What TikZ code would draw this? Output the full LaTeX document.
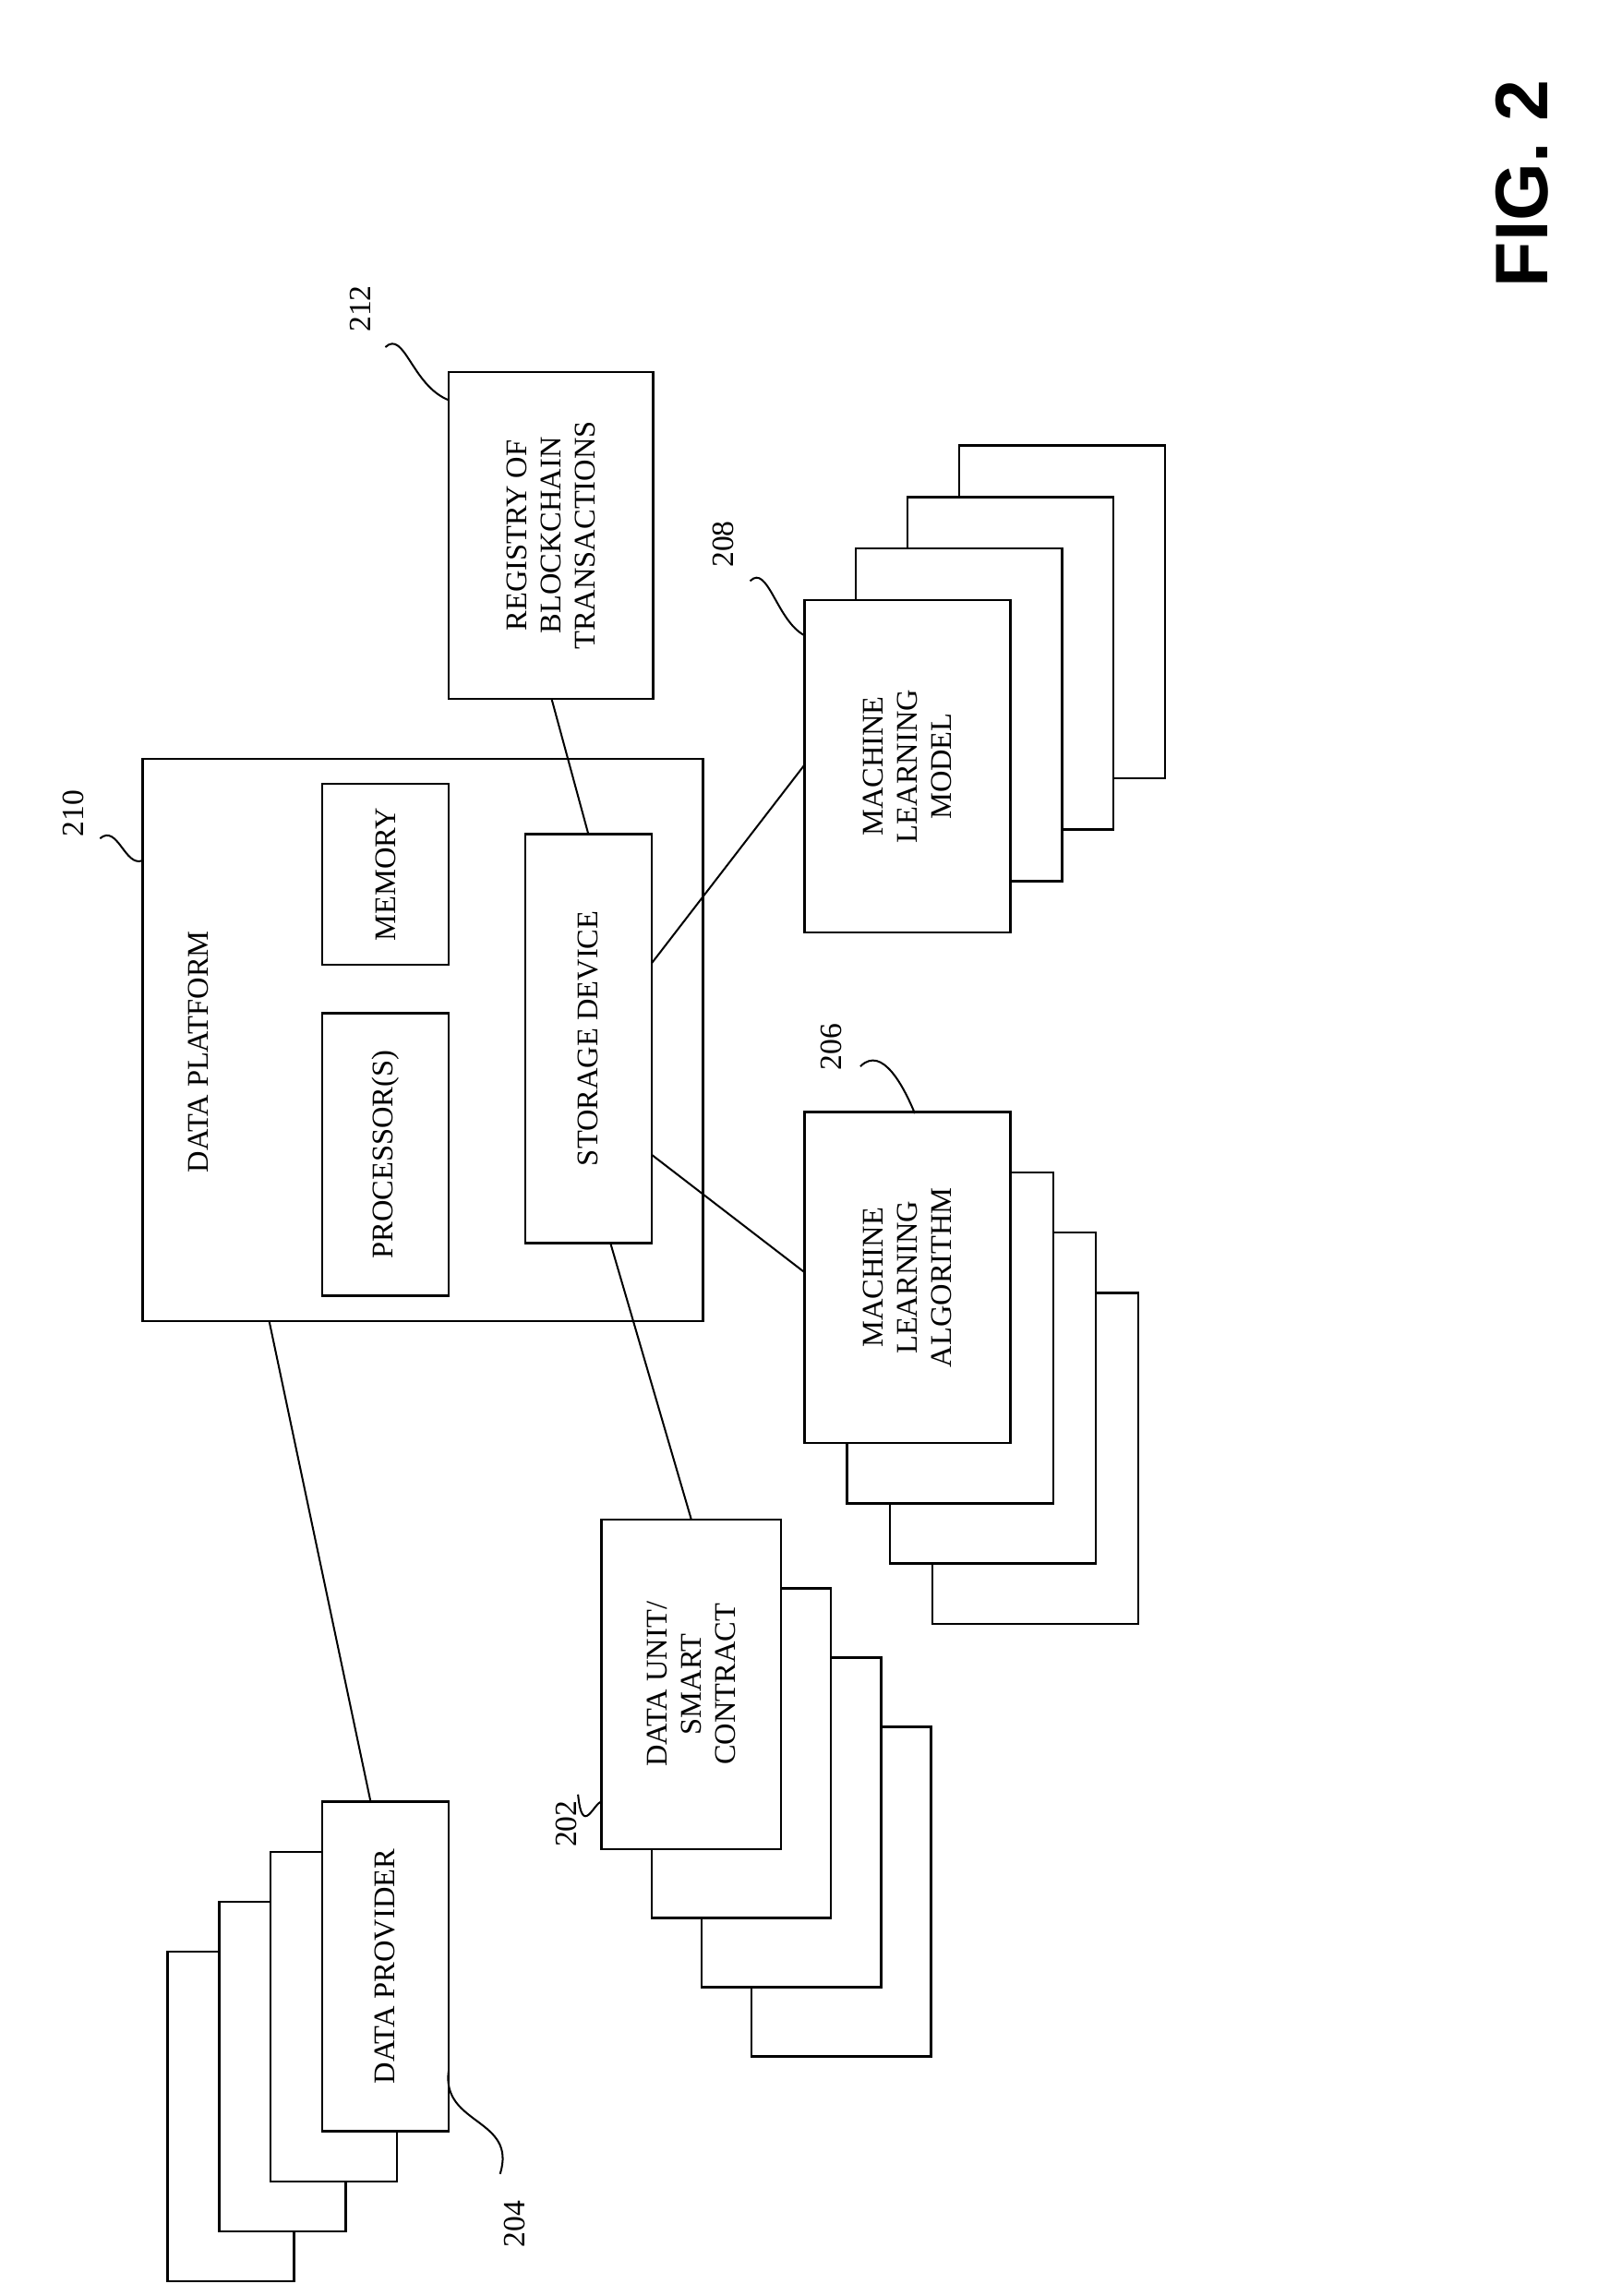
\documentclass[tikz,border=0pt]{standalone}
\usepackage{fontspec}
\setmainfont{Liberation Serif}
\newfontfamily\figfont{Liberation Sans}
\usetikzlibrary{positioning}

\tikzset{
  box/.style={draw, line width=1.1pt, fill=white, rotate=90, align=center,
    font=\fontsize{14.5}{16.5}\selectfont, inner sep=2pt},
  lbl/.style={rotate=90, font=\fontsize{15}{17}\selectfont},
  lead/.style={line width=0.9pt},
  link/.style={line width=0.9pt}
}

\begin{document}
\begin{tikzpicture}[x=0.025cm, y=-0.025cm]
  \useasboundingbox (0,0) rectangle (1086,1561);

  % data platform
  \node[box, minimum width=9.55cm, minimum height=9.525cm] (dp) at (287.5,707) {};
  \node[lbl, font=\fontsize{14.5}{16.5}\selectfont] (dpt) at (135,715) {DATA PLATFORM};
  \node[box, minimum width=4.8cm, minimum height=2.15cm] (proc) at (262,785) {PROCESSOR(S)};
  \node[box, minimum width=3.075cm, minimum height=2.15cm] (mem) at (262,594.5) {MEMORY};
  \node[box, minimum width=6.95cm, minimum height=2.15cm] (stor) at (400,706) {STORAGE DEVICE};

  % registry
  \node[box, minimum width=5.55cm, minimum height=3.475cm] (reg) at (374.5,364)
    {REGISTRY OF\\BLOCKCHAIN\\TRANSACTIONS};

  % stacks
  \foreach \k in {3,2,1}
    \node[box, minimum width=5.65cm, minimum height=3.5cm] (mlm\k) at (617+35*\k,521-35*\k) {};
  \node[box, minimum width=5.65cm, minimum height=3.5cm] (mlm) at (617,521) {MACHINE\\LEARNING\\MODEL};

  \foreach \k in {3,2,1}
    \node[box, minimum width=5.625cm, minimum height=3.5cm] (mla\k) at (617+29*\k,868.5+41*\k) {};
  \node[box, minimum width=5.625cm, minimum height=3.5cm] (mla) at (617,868.5) {MACHINE\\LEARNING\\ALGORITHM};

  \foreach \k in {3,2,1}
    \node[box, minimum width=5.6cm, minimum height=3.05cm] (du\k) at (470+34*\k,1145+47*\k) {};
  \node[box, minimum width=5.6cm, minimum height=3.05cm] (du) at (470,1145) {DATA UNIT/\\SMART\\CONTRACT};

  \foreach \k in {3,2,1}
    \node[box, minimum width=5.6cm, minimum height=2.15cm] (dpv\k) at (262-35*\k,1337+34*\k) {};
  \node[box, minimum width=5.6cm, minimum height=2.15cm] (dpv) at (262,1337) {DATA PROVIDER};

  % connectors
  \coordinate (a1) at (183,898);   \coordinate (a2) at (252,1225);
  \coordinate (b1) at (415,845);   \coordinate (b2) at (470,1033);
  \coordinate (c1) at (443,785);   \coordinate (c2) at (547,865);
  \coordinate (d1) at (443,655);   \coordinate (d2) at (547,520);
  \coordinate (e1) at (375,475);   \coordinate (e2) at (400,567);
  \draw[link] (a1) -- (a2);
  \draw[link] (b1) -- (b2);
  \draw[link] (c1) -- (c2);
  \draw[link] (d1) -- (d2);
  \draw[link] (e1) -- (e2);

  % reference numerals
  \node[lbl] (n210) at (50,553) {210};
  \node[lbl] (n212) at (245,210) {212};
  \node[lbl] (n208) at (492,370) {208};
  \node[lbl] (n206) at (565,712) {206};
  \node[lbl] (n202) at (385,1240) {202};
  \node[lbl] (n204) at (350,1512) {204};
  \coordinate (t210) at (97,585);
  \coordinate (t212) at (305,272);
  \coordinate (t208) at (547,432);
  \coordinate (t206) at (622,757);
  \coordinate (t202) at (409,1225);
  \coordinate (t204) at (305,1408);
  \draw[lead] (68,570) .. controls (80,560) and (85,590) .. (t210);
  \draw[lead] (262,236) .. controls (275,224) and (280,262) .. (t212);
  \draw[lead] (510,395) .. controls (522,383) and (528,422) .. (t208);
  \draw[lead] (585,725) .. controls (600,710) and (615,740) .. (t206);
  \draw[lead] (393,1220) .. controls (396,1250) and (404,1225) .. (t202);
  \draw[lead] (340,1478) .. controls (352,1440) and (300,1445) .. (t204);

  \node[rotate=90, font=\figfont\bfseries\fontsize{36}{40}\selectfont] (fig) at (1035,125) {FIG. 2};
\end{tikzpicture}
\end{document}
